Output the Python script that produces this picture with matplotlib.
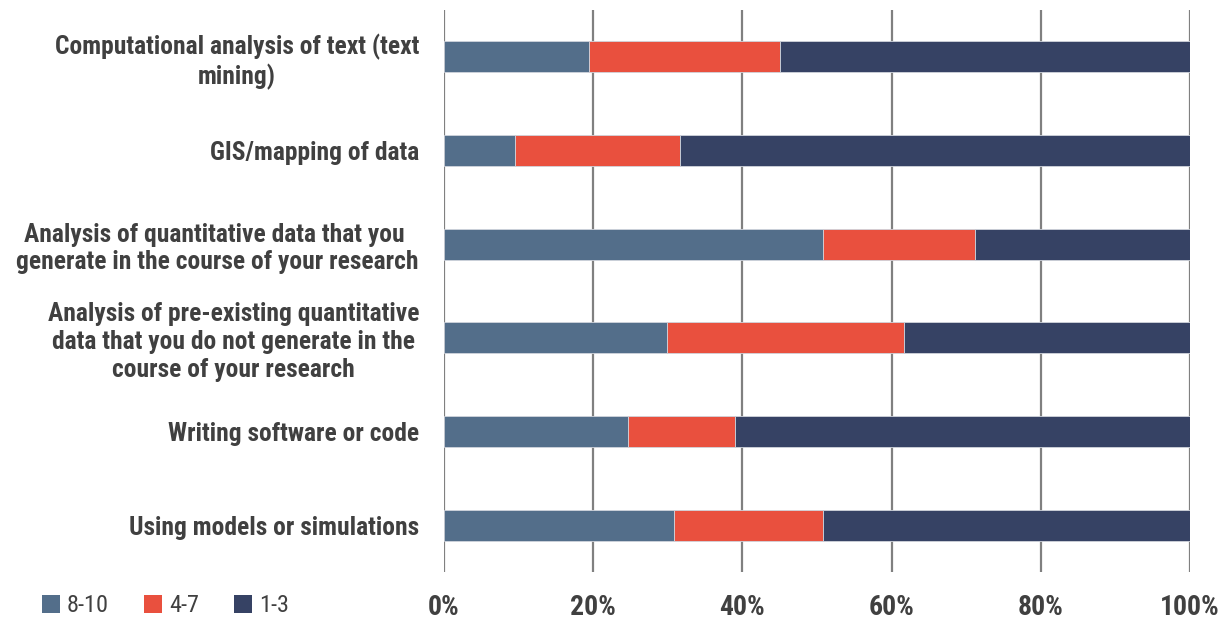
import matplotlib
matplotlib.use("Agg")
import matplotlib.pyplot as plt
from matplotlib import font_manager
from matplotlib.patches import Patch

categories = [
    "Computational analysis of text (text\nmining)",
    "GIS/mapping of data",
    "Analysis of quantitative data that you \ngenerate in the course of your research",
    "Analysis of pre-existing quantitative\ndata that you do not generate in the\ncourse of your research",
    "Writing software or code",
    "Using models or simulations",
]
series_names = ["8-10", "4-7", "1-3"]
high = [19.4, 9.5, 50.8, 29.9, 24.7, 30.8]
mid = [25.6, 22.1, 20.4, 31.8, 14.3, 20.0]
low = [55.0, 68.4, 28.8, 38.3, 61.0, 49.2]
tick_values = [0, 20, 40, 60, 80, 100]
tick_labels = ["0%", "20%", "40%", "60%", "80%", "100%"]

colors = ["#536E8A", "#E9503E", "#364264"]

names = {f.name for f in font_manager.fontManager.ttflist}
prefs = ["Liberation Sans Narrow", "Arial Narrow", "Roboto Condensed", "PT Sans Narrow",
         "Archivo Narrow", "Asap Condensed", "Liberation Sans"]
fam = next(p for p in prefs if p in names)
plt.rcParams["font.family"] = [fam, "DejaVu Sans"]

fig = plt.figure(figsize=(12.31, 6.23), dpi=100)
ax = fig.add_axes([444 / 1231, 1 - 572 / 623, (1190 - 444) / 1231, (572 - 10) / 623])

y = list(range(len(categories)))
left = [0] * len(categories)
for vals, c, name in zip([high, mid, low], colors, series_names):
    ax.barh(y, vals, left=left, height=0.33, color=c, edgecolor="#D0D4DC",
            linewidth=0.6, label=name, zorder=3)
    left = [a + b for a, b in zip(left, vals)]

ax.set_xlim(0, 100)
ax.set_ylim(5.5, -0.5)
ax.set_xticks(tick_values)
ax.set_xticklabels(tick_labels, fontsize=20, fontweight="bold", color="#404040")
ax.set_yticks(y)
ax.set_yticklabels(categories, fontsize=18.4, fontweight="bold", color="#404040",
                   multialignment="center", linespacing=1.2)
ax.tick_params(axis="x", length=0, pad=16)
ax.tick_params(axis="y", length=0, pad=18)
ax.grid(axis="x", color="#808080", linewidth=1.6, zorder=1)
for s in ax.spines.values():
    s.set_visible(False)

handles = [Patch(facecolor=c, edgecolor="none") for c in colors]
fig.legend(handles, series_names, loc="center left", bbox_to_anchor=(42 / 1231, 1 - 606 / 623),
           ncol=3, frameon=False, fontsize=17.5, handlelength=0.72, handleheight=0.72,
           handletextpad=0.3, columnspacing=1.45, borderpad=0, borderaxespad=0,
           labelcolor="#404040")

fig.savefig("out.png", dpi=100)
